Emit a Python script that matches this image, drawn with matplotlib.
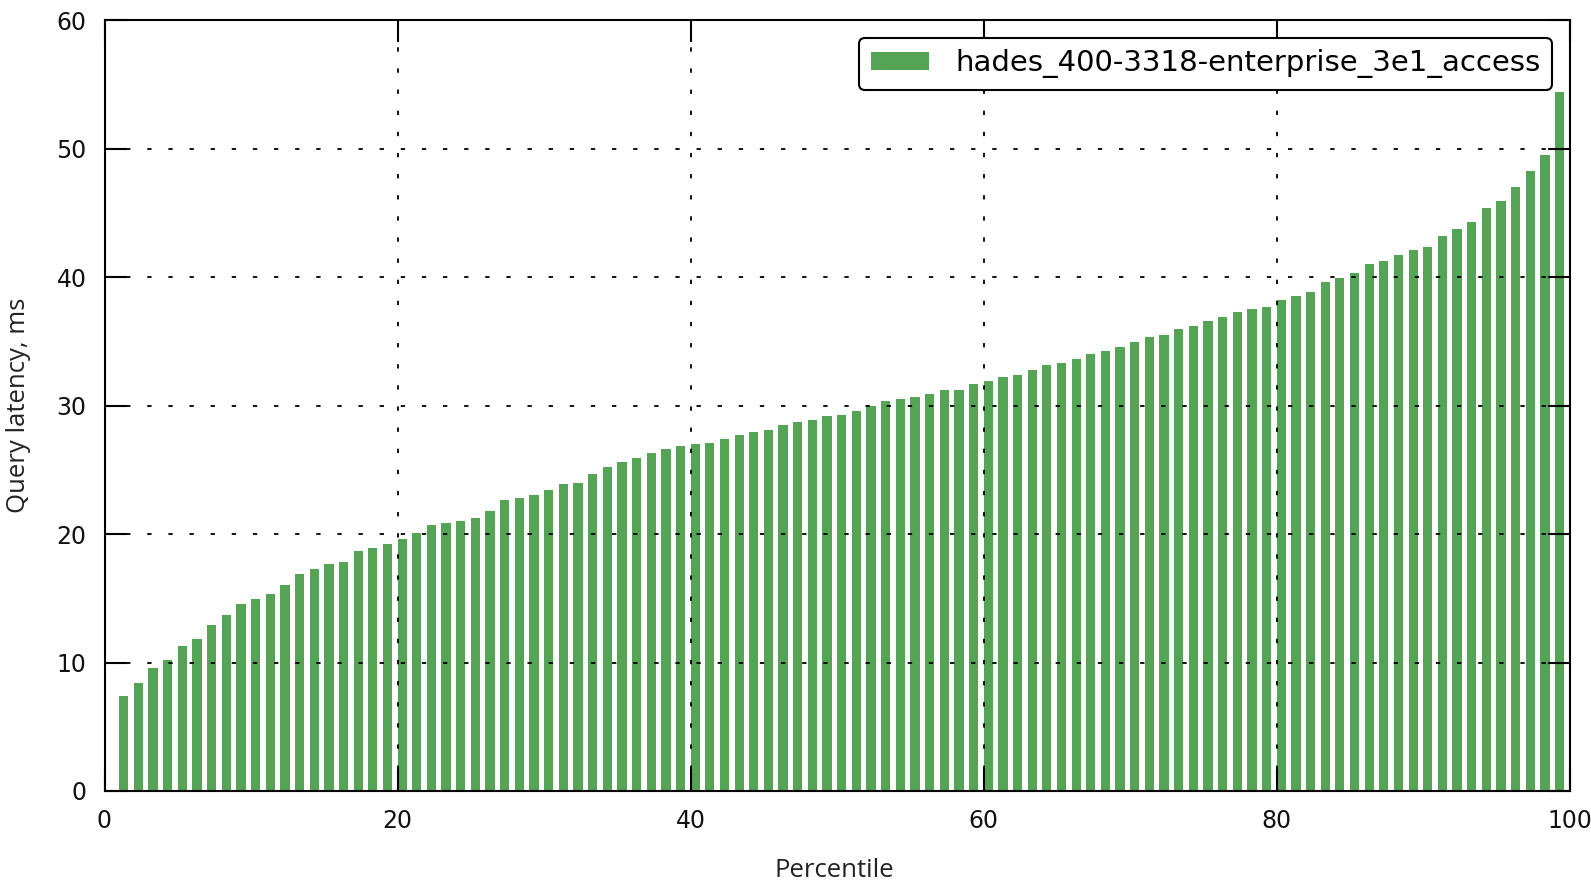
import numpy as np
import matplotlib
matplotlib.use('Agg')
import matplotlib.pyplot as plt

# percentile -> query latency (ms)
percentiles = list(range(1, 100))
latency_ms = [
    7.40, 8.41, 9.61, 10.18, 11.29, 11.81, 12.91, 13.74, 14.54, 14.98,
    15.37, 16.05, 16.86, 17.27, 17.69, 17.84, 18.65, 18.94, 19.20, 19.61,
    20.05, 20.72, 20.86, 20.99, 21.27, 21.82, 22.63, 22.78, 23.04, 23.45,
    23.87, 24.00, 24.68, 25.22, 25.63, 25.90, 26.31, 26.60, 26.86, 27.00,
    27.13, 27.42, 27.68, 27.94, 28.10, 28.48, 28.76, 28.92, 29.18, 29.31,
    29.60, 29.98, 30.39, 30.55, 30.68, 30.94, 31.20, 31.20, 31.65, 31.95,
    32.26, 32.39, 32.78, 33.20, 33.35, 33.61, 34.02, 34.28, 34.57, 34.96,
    35.37, 35.53, 35.95, 36.20, 36.62, 36.88, 37.32, 37.56, 37.68, 38.19,
    38.57, 38.86, 39.66, 39.95, 40.34, 41.04, 41.30, 41.71, 42.13, 42.39,
    43.22, 43.76, 44.31, 45.40, 45.94, 47.06, 48.28, 49.50, 54.43,
]
series_name = 'hades_400-3318-enterprise_3e1_access'

W, H = 1591, 883
fig = plt.figure(figsize=(W / 100, H / 100), dpi=100)
# axes box in pixels: left 104.5, right 1569.7, top 20.3, bottom 791
ax = fig.add_axes([104.5 / W, 1 - 791 / H, (1569.7 - 104.5) / W, (791 - 20.3) / H])

ax.bar(percentiles, latency_ms, width=0.63, align='edge', color='#55a355',
       edgecolor='none', label=series_name, zorder=2)

ax.set_xlim(0, 100)
ax.set_ylim(0, 60)
ax.set_xticks(np.arange(0, 101, 20))
ax.set_yticks(np.arange(0, 61, 10))

ax.grid(True, color='black', linestyle=(0, (2.4, 9.3)), linewidth=1.3, zorder=3)
ax.set_axisbelow(False)
for s in ax.spines.values():
    s.set_linewidth(1.5)
    s.set_zorder(4)

ax.tick_params(direction='in', length=16, width=1.5, top=True, right=True,
               labelsize=17, pad=13, colors='black')
for lbl in ax.get_xticklabels() + ax.get_yticklabels():
    lbl.set_family('DejaVu Sans')
    lbl.set_color('#111111')

ax.set_xlabel('Percentile', family='Open Sans', fontsize=18.5, color='#222222')
ax.set_ylabel('Query latency, ms', family='Open Sans', fontsize=18.5, color='#222222')
ax.xaxis.set_label_coords(0.498, -0.103)
ax.xaxis.label.set_va('center')
ax.yaxis.set_label_coords(-0.059, 0.5)
ax.yaxis.label.set_va('center')

leg = ax.legend(loc='upper right', fancybox=True, framealpha=1,
                borderaxespad=0.6, handlelength=2.0, handleheight=0.6,
                borderpad=0.4, handletextpad=0.9,
                prop={'family': 'DejaVu Sans', 'size': 21})
leg.get_frame().set_edgecolor('black')
leg.get_frame().set_linewidth(1.5)
leg.set_zorder(5)

fig.savefig('out.png', dpi=100)
